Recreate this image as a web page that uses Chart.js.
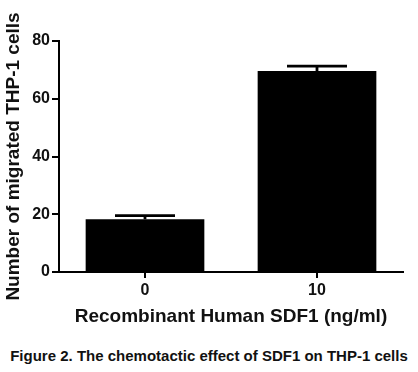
<!DOCTYPE html>
<html>
<head>
<meta charset="utf-8">
<script src="https://cdn.jsdelivr.net/npm/chart.js@4"></script>
<style>
  html, body { margin: 0; padding: 0; background: #fff; }
  #wrap { position: relative; width: 418px; height: 372px; }
  #chart { position: absolute; left: 0; top: 0; }
  #caption {
    position: absolute; left: 0; width: 418px; top: 347px;
    text-align: center; font: bold 15px "Liberation Sans", Arial, sans-serif; color: #111;
  }
</style>
</head>
<body>
<div id="wrap">
  <canvas id="chart" width="418" height="330"></canvas>
  <div id="caption">Figure 2. The chemotactic effect of SDF1 on THP-1 cells</div>
</div>
<script>
const categories = ['0', '10'];
const migrated = [18.3, 69.6];
const errors = [1.25, 1.7];
const yTicks = [0, 20, 40, 60, 80];

const FONT = '"Liberation Sans", Arial, sans-serif';

// error bars drawn through the library's own scales
const errorBars = {
  id: 'errorBars',
  afterDatasetsDraw(chart) {
    const ctx = chart.ctx;
    const y = chart.scales.y;
    const meta = chart.getDatasetMeta(0);
    ctx.save();
    ctx.strokeStyle = '#000';
    ctx.lineWidth = 2.8;
    meta.data.forEach((bar, i) => {
      const top = y.getPixelForValue(migrated[i] + errors[i]);
      const base = y.getPixelForValue(migrated[i]);
      ctx.beginPath();
      ctx.moveTo(bar.x, base);
      ctx.lineTo(bar.x, top);
      ctx.moveTo(bar.x - 30, top);
      ctx.lineTo(bar.x + 30, top);
      ctx.stroke();
    });
    ctx.restore();
  }
};

new Chart(document.getElementById('chart'), {
  type: 'bar',
  data: {
    labels: categories,
    datasets: [{
      data: migrated,
      backgroundColor: '#000',
      borderWidth: 0,
      barPercentage: 0.69,
      categoryPercentage: 1
    }]
  },
  options: {
    responsive: false,
    animation: false,
    layout: { padding: { top: 41, right: 15, left: 0, bottom: 0 } },
    plugins: { legend: { display: false }, tooltip: { enabled: false } },
    scales: {
      x: {
        afterFit(axis) { axis.height = 58; },
        grid: { display: true, drawOnChartArea: false, offset: false, tickLength: 6, color: '#000', lineWidth: 2 },
        border: { display: true, color: '#000', width: 2 },
        ticks: { color: '#111', font: { family: FONT, size: 16, weight: 'bold' }, padding: 3 },
        title: {
          display: true, text: 'Recombinant Human SDF1 (ng/ml)',
          color: '#111', font: { family: FONT, size: 19, weight: 'bold' }, padding: { top: 0, bottom: 2 }
        }
      },
      y: {
        min: 0, max: 80,
        afterFit(axis) { axis.width = 59; },
        afterBuildTicks(axis) { axis.ticks = yTicks.map(v => ({ value: v })); },
        grid: { display: true, drawOnChartArea: false, tickLength: 7, color: '#000', lineWidth: 2 },
        border: { display: true, color: '#000', width: 2 },
        ticks: { color: '#111', font: { family: FONT, size: 16, weight: 'bold' }, padding: 2 },
        title: {
          display: true, text: 'Number of migrated THP-1 cells',
          color: '#111', font: { family: FONT, size: 19, weight: 'bold' }, padding: { top: 2, bottom: 2 }
        }
      }
    }
  },
  plugins: [errorBars]
});
</script>
</body>
</html>
